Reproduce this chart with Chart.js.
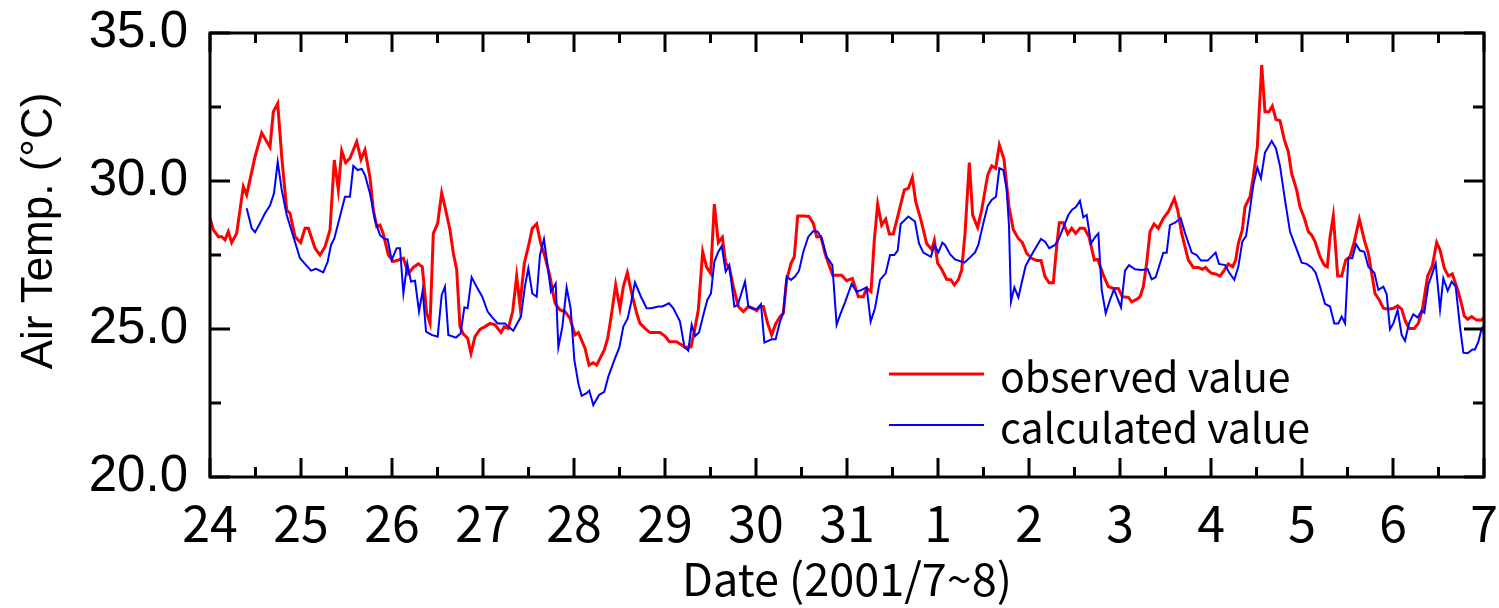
<!DOCTYPE html>
<html>
<head>
<meta charset="utf-8">
<script src="https://cdn.jsdelivr.net/npm/chart.js"></script>
<style>
  body { margin: 0; background: #fff; }
</style>
</head>
<body>
<canvas id="chart1" width="1499" height="608"></canvas>
<script>
// day labels (2001/7/24 .. 8/7), x = days since 7/24 00:00
const dayLabels = ['24','25','26','27','28','29','30','31','1','2','3','4','5','6','7'];

const obsDay = [0.0,0.037,0.092,0.128,0.165,0.201,0.238,0.293,0.366,0.403,0.495,0.568,0.659,0.696,0.744,0.788,0.843,0.879,0.934,0.996,
  1.044,1.081,1.154,1.209,1.264,1.319,1.366,1.41,1.447,1.491,1.538,1.612,1.659,1.703,1.758,1.795,1.832,1.868,1.905,1.96,
  2.015,2.07,2.125,2.179,2.234,2.289,2.333,2.381,2.418,2.454,2.502,2.546,2.582,2.637,2.674,2.711,2.747,2.784,2.831,2.868,2.912,2.967,
  3.022,3.077,3.132,3.198,3.234,3.278,3.326,3.37,3.406,3.454,3.498,3.542,3.59,3.634,3.681,3.736,3.791,3.846,3.901,3.956,
  4.011,4.048,4.121,4.165,4.212,4.249,4.286,4.333,4.37,4.414,4.458,4.505,4.542,4.586,4.634,4.689,4.725,4.78,4.835,4.945,
  5.0,5.048,5.128,5.183,5.22,5.286,5.322,5.366,5.414,5.458,5.502,5.542,5.586,5.63,5.667,5.707,5.751,5.806,5.861,5.916,5.971,
  6.007,6.044,6.081,6.128,6.172,6.216,6.264,6.3,6.337,6.385,6.421,6.458,6.52,6.582,6.63,6.667,6.714,6.758,6.795,6.843,6.941,6.996,
  7.059,7.125,7.179,7.216,7.264,7.3,7.337,7.381,7.425,7.465,7.509,7.557,7.63,7.674,7.718,7.755,7.813,7.875,7.93,7.96,7.996,
  8.04,8.095,8.143,8.179,8.223,8.26,8.297,8.344,8.381,8.436,8.48,8.546,8.59,8.634,8.674,8.725,8.78,8.828,8.883,8.927,8.974,
  9.029,9.084,9.132,9.176,9.22,9.267,9.304,9.333,9.377,9.425,9.469,9.513,9.56,9.608,9.659,9.718,9.755,9.817,9.872,9.927,9.982,
  10.026,10.092,10.128,10.183,10.22,10.256,10.293,10.33,10.374,10.421,10.476,10.531,10.597,10.634,10.678,10.751,10.806,10.861,10.905,10.941,10.971,
  11.007,11.051,11.099,11.147,11.19,11.238,11.271,11.3,11.344,11.374,11.429,11.465,11.509,11.557,11.593,11.637,11.674,11.714,11.758,11.806,11.85,11.886,11.941,11.978,
  12.026,12.07,12.106,12.143,12.198,12.245,12.278,12.308,12.344,12.392,12.436,12.48,12.527,12.575,12.63,12.685,12.729,12.766,12.802,12.846,12.894,12.949,
  13.004,13.051,13.095,13.132,13.176,13.234,13.278,13.322,13.381,13.432,13.48,13.517,13.564,13.608,13.652,13.711,13.747,13.784,13.821,13.864,13.919,13.974,14.0];
const obsTemp = [28.74,28.35,28.12,28.12,28.01,28.29,27.92,28.23,29.81,29.53,30.82,31.63,31.14,32.34,32.62,30.82,29.02,28.91,28.12,27.92,
  28.4,28.4,27.73,27.5,27.78,28.35,30.71,29.7,31.02,30.62,30.77,31.33,30.73,31.05,30.12,29.02,28.46,28.51,28.2,27.5,
  27.28,27.33,27.39,26.88,27.08,27.2,27.1,25.53,25.19,28.23,28.57,29.6,29.13,28.35,27.56,27.0,25.08,24.83,24.69,24.18,24.74,24.99,
  25.08,25.19,25.14,24.88,25.08,25.02,25.59,26.79,25.81,27.22,27.78,28.4,28.55,27.89,27.44,26.77,25.87,25.64,25.59,25.36,
  24.8,24.88,24.35,23.78,23.86,23.78,24.01,24.29,24.68,25.53,26.49,25.7,26.43,26.9,26.2,25.53,25.19,25.02,24.88,24.88,
  24.76,24.57,24.57,24.46,24.38,24.4,24.91,25.64,27.61,27.08,26.88,29.22,27.92,28.1,27.22,27.08,26.43,25.76,25.59,25.76,25.7,
  25.62,25.76,25.76,25.19,24.8,25.17,25.42,25.53,26.66,27.22,27.44,28.82,28.82,28.8,28.57,28.12,28.12,27.56,27.22,26.82,26.82,26.63,
  26.71,26.09,26.09,26.37,26.26,28.0,29.22,28.51,28.71,28.21,28.21,28.8,29.7,29.75,30.12,29.3,28.68,27.89,27.69,28.0,27.22,
  27.02,26.68,26.66,26.49,26.66,26.99,28.23,30.62,28.85,28.43,29.02,30.2,30.51,30.43,31.22,30.73,29.13,28.35,28.06,27.92,27.56,
  27.39,27.31,27.31,26.77,26.56,26.56,27.78,28.59,28.59,28.21,28.4,28.23,28.4,28.4,28.12,27.33,27.35,26.82,26.43,26.37,26.37,
  26.09,26.07,25.92,26.0,26.09,26.43,27.22,28.29,28.55,28.4,28.74,28.96,29.41,29.02,28.23,27.33,27.08,27.08,27.02,27.08,26.97,
  26.88,26.86,26.79,26.99,27.2,27.1,27.33,27.89,28.35,29.13,29.47,30.15,31.14,33.92,32.34,32.34,32.53,32.08,32.04,31.39,30.99,30.26,29.7,29.13,
  28.74,28.29,28.17,27.95,27.44,27.16,27.1,28.1,28.82,26.79,26.79,27.33,27.44,27.95,28.71,28.0,27.56,26.88,26.2,26.0,25.7,25.67,
  25.7,25.78,25.67,25.3,25.02,25.02,25.19,25.64,26.79,27.13,27.92,27.67,27.05,26.79,26.86,26.32,25.92,25.44,25.33,25.42,25.3,25.3,25.39];

const calDay = [0.403,0.458,0.495,0.549,0.604,0.659,0.703,0.744,0.788,0.843,0.916,0.989,
  1.044,1.11,1.165,1.245,1.293,1.33,1.366,1.428,1.483,1.538,1.575,1.623,1.667,1.703,1.758,1.813,1.868,1.923,1.952,1.996,
  2.051,2.088,2.125,2.168,2.209,2.253,2.297,2.337,2.374,2.436,2.502,2.546,2.582,2.619,2.703,2.754,2.795,2.831,2.875,2.93,2.992,
  3.051,3.095,3.161,3.242,3.278,3.333,3.417,3.461,3.498,3.542,3.59,3.626,3.67,3.711,3.747,3.799,3.828,3.872,3.919,3.963,
  4.004,4.048,4.084,4.139,4.168,4.212,4.275,4.333,4.377,4.443,4.498,4.542,4.59,4.626,4.67,4.736,4.798,4.846,4.927,4.971,
  5.044,5.092,5.165,5.213,5.256,5.293,5.33,5.374,5.421,5.465,5.505,5.542,5.586,5.623,5.667,5.707,5.762,5.799,5.879,5.916,5.971,
  6.007,6.055,6.092,6.172,6.216,6.264,6.3,6.337,6.385,6.429,6.473,6.52,6.575,6.63,6.678,6.722,6.777,6.839,6.886,6.923,6.978,
  7.051,7.106,7.161,7.216,7.26,7.308,7.363,7.425,7.473,7.52,7.557,7.59,7.674,7.747,7.791,7.839,7.923,7.96,
  8.004,8.048,8.077,8.132,8.187,8.289,8.352,8.407,8.443,8.498,8.546,8.59,8.637,8.674,8.718,8.755,8.78,8.802,8.839,8.883,8.963,
  9.048,9.132,9.176,9.223,9.286,9.33,9.388,9.432,9.476,9.513,9.56,9.597,9.634,9.681,9.725,9.762,9.799,9.843,9.89,9.934,
  10.011,10.055,10.099,10.165,10.238,10.304,10.348,10.392,10.44,10.476,10.513,10.549,10.604,10.667,10.722,10.788,10.842,10.89,10.963,
  11.051,11.088,11.154,11.201,11.256,11.3,11.344,11.385,11.418,11.465,11.509,11.549,11.593,11.667,11.714,11.758,11.813,11.868,11.93,11.996,
  12.051,12.106,12.15,12.198,12.253,12.308,12.355,12.399,12.436,12.473,12.509,12.553,12.593,12.637,12.685,12.729,12.795,12.839,12.894,12.93,12.967,
  13.004,13.051,13.095,13.132,13.176,13.223,13.271,13.315,13.344,13.388,13.432,13.469,13.517,13.553,13.601,13.645,13.689,13.736,13.773,13.821,13.872,13.901,13.938,13.974,13.99,14.0];
const calTemp = [29.08,28.4,28.27,28.57,28.91,29.17,29.58,30.65,29.7,28.85,28.12,27.39,
  27.2,26.97,27.03,26.91,27.27,27.84,28.06,28.8,29.47,29.47,30.51,30.37,30.41,30.2,29.58,28.68,28.17,28.03,28.03,27.33,
  27.73,27.73,26.2,27.22,26.6,26.63,25.59,26.3,24.91,24.8,24.74,26.15,26.43,24.8,24.71,24.85,25.73,25.7,26.75,26.43,26.09,
  25.59,25.42,25.19,25.19,25.08,24.94,25.42,26.45,27.05,26.2,26.09,27.5,28.04,27.11,26.26,26.54,24.38,25.08,26.4,25.7,
  23.95,23.16,22.74,22.83,22.92,22.43,22.77,22.88,23.39,23.95,24.38,25.08,25.36,25.87,26.57,26.09,25.7,25.7,25.76,25.76,
  25.87,25.7,25.25,24.4,24.27,25.14,24.76,24.88,25.47,25.98,26.2,27.27,27.61,27.8,26.94,27.16,25.76,25.81,26.6,25.76,25.67,
  25.67,25.84,24.54,24.65,24.65,25.25,25.55,26.77,26.66,26.77,26.97,27.61,28.12,28.31,28.29,28.06,27.44,27.16,25.14,25.47,25.9,
  26.52,26.26,26.32,26.41,25.25,25.7,26.66,26.88,27.5,27.5,27.65,28.55,28.8,28.63,27.89,27.58,27.44,27.84,
  27.59,27.92,27.84,27.53,27.35,27.24,27.42,27.59,27.84,28.57,29.16,29.36,29.47,30.43,30.37,29.7,28.5,25.92,26.41,26.07,27.13,
  27.61,28.04,27.95,27.73,27.84,28.06,28.51,28.85,29.04,29.11,29.33,28.77,28.85,27.89,28.1,28.23,26.32,25.53,25.98,26.34,
  25.73,26.97,27.16,27.02,26.99,27.02,26.68,26.75,27.22,27.58,27.58,28.51,28.59,28.74,28.17,27.58,27.5,27.31,27.31,
  27.58,27.2,27.16,26.9,26.66,27.1,27.95,28.14,28.82,29.86,30.46,30.09,30.96,31.35,31.1,30.51,29.36,28.29,27.78,27.24,
  27.2,27.08,26.9,26.43,25.85,25.76,25.19,25.19,25.42,25.19,27.39,27.39,27.87,27.65,27.61,27.1,26.9,26.32,26.43,26.18,24.99,
  25.19,25.64,24.8,24.6,25.19,25.5,25.39,25.62,25.55,26.49,26.88,27.22,25.67,26.71,26.29,26.6,26.43,25.08,24.2,24.18,24.31,24.31,24.57,25.02,25.08,24.7];

const seriesNames = ['observed value', 'calculated value'];
const seriesColors = ['#ff0000', '#0000ff'];

function toPoints(xs, ys) {
  return xs.map((d, i) => ({ x: d, y: ys[i] }));
}

// frame, inward ticks, legend and y title
const frame = {
  id: 'frame',
  afterDraw(chart) {
    const ctx = chart.ctx;
    const a = chart.chartArea;
    const x = chart.scales.x, y = chart.scales.y;
    ctx.save();
    ctx.strokeStyle = '#000';
    ctx.lineWidth = 3;
    ctx.strokeRect(a.left, a.top, a.right - a.left, a.bottom - a.top);
    ctx.beginPath();
    for (let d = 0; d <= 14; d += 0.5) {
      const px = x.getPixelForValue(d);
      const len = d % 1 === 0 ? 19 : 10;
      ctx.moveTo(px, a.bottom); ctx.lineTo(px, a.bottom - len);
      ctx.moveTo(px, a.top); ctx.lineTo(px, a.top + len);
    }
    for (let t = 20; t <= 35; t += 2.5) {
      const py = y.getPixelForValue(t);
      const len = t % 5 === 0 ? 20 : 11;
      ctx.moveTo(a.left, py); ctx.lineTo(a.left + len, py);
      ctx.moveTo(a.right, py); ctx.lineTo(a.right - len, py);
    }
    ctx.stroke();

    // legend
    const rows = [[374, 392, 3], [425, 443, 2]];
    ctx.font = '41px "Noto Sans CJK JP"';
    ctx.fillStyle = '#000';
    ctx.textBaseline = 'alphabetic';
    rows.forEach((r, i) => {
      ctx.strokeStyle = seriesColors[i];
      ctx.lineWidth = r[2];
      ctx.beginPath();
      ctx.moveTo(889, r[0]); ctx.lineTo(984, r[0]);
      ctx.stroke();
      ctx.fillText(seriesNames[i], 1000, r[1]);
    });

    // y axis title
    ctx.translate(40, 231);
    ctx.rotate(-Math.PI / 2);
    ctx.font = '44px "Liberation Sans"';
    ctx.textAlign = 'center';
    ctx.textBaseline = 'middle';
    ctx.fillText('Air Temp. (\u00B0C)', 0, 0);
    ctx.restore();
  }
};

window.onload = function () {
  let chart1 = document.getElementById('chart1').getContext('2d');

  new Chart(chart1, {
    type: 'line',
    data: {
      datasets: [{
        label: seriesNames[0],
        data: toPoints(obsDay, obsTemp),
        borderColor: seriesColors[0],
        borderWidth: 3,
        pointRadius: 0,
        tension: 0,
        order: 2
      },
      {
        label: seriesNames[1],
        data: toPoints(calDay, calTemp),
        borderColor: seriesColors[1],
        borderWidth: 2,
        pointRadius: 0,
        tension: 0,
        order: 1
      }]
    },
    options: {
      responsive: false,
      animation: false,
      layout: { padding: { top: 33, right: 15, left: 0, bottom: 0 } },
      plugins: { legend: { display: false }, tooltip: { enabled: false } },
      scales: {
        x: {
          type: 'linear', min: 0, max: 14,
          grid: { display: false, drawTicks: false },
          border: { display: false },
          ticks: {
            stepSize: 1, autoSkip: false, maxRotation: 0, color: '#000', padding: 16,
            font: { family: '"Noto Sans CJK JP"', size: 50 },
            callback: v => dayLabels[v]
          },
          title: {
            display: true, text: 'Date (2001/7~8)', color: '#000',
            font: { family: '"Noto Sans CJK JP"', size: 45 },
            padding: { top: 0, bottom: 2 }
          },
          afterFit: s => { s.height = 131; s.paddingLeft = 0; s.paddingRight = 0; }
        },
        y: {
          min: 20, max: 35,
          grid: { display: false, drawTicks: false },
          border: { display: false },
          ticks: {
            stepSize: 5, color: '#000', padding: 22,
            font: { family: '"Liberation Sans"', size: 51 },
            callback: v => v.toFixed(1)
          },
          afterFit: s => { s.width = 210; s.paddingTop = 0; s.paddingBottom = 0; }
        }
      }
    },
    plugins: [frame]
  });
};
</script>
</body>
</html>
